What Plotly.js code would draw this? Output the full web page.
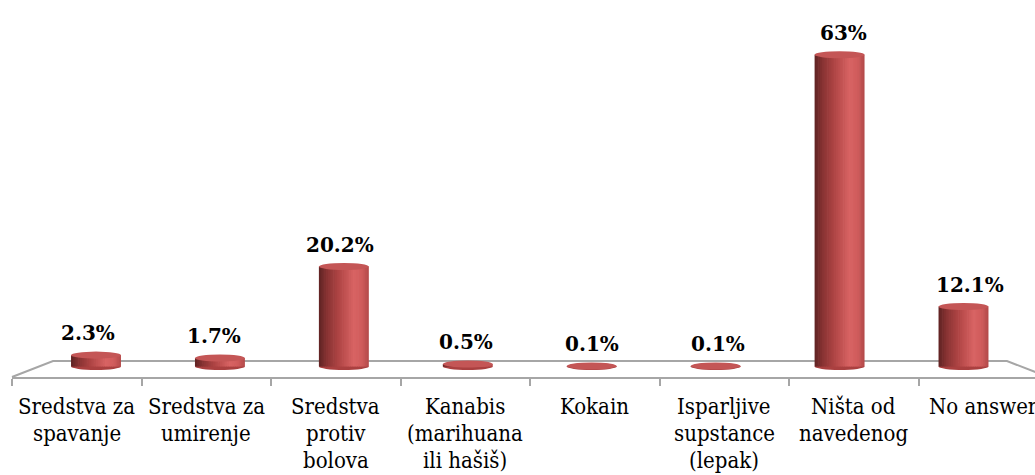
<!DOCTYPE html>
<html>
<head>
<meta charset="utf-8">
<script src="https://cdn.plot.ly/plotly-3.0.1.min.js"></script>
<style>
html, body { margin: 0; padding: 0; overflow: hidden; background: #ffffff; }
#chart { width: 1060px; height: 475px; }
</style>
</head>
<body>
<div id="chart"></div>
<script>
// ---- data ----
const categories = [
  "Sredstva za<br>spavanje",
  "Sredstva za<br>umirenje",
  "Sredstva<br>protiv<br>bolova",
  "Kanabis<br>(marihuana<br>ili hašiš)",
  "Kokain",
  "Isparljive<br>supstance<br>(lepak)",
  "Ništa od<br>navedenog",
  "No answer"
];
const values = [2.3, 1.7, 20.2, 0.5, 0.1, 0.1, 63, 12.1];
const valueLabels = ["2.3%", "1.7%", "20.2%", "0.5%", "0.1%", "0.1%", "63%", "12.1%"];

// ---- style ----
const catFont = "DejaVu Serif Condensed";
const valFont = "DejaVu Serif";
const floorColor = "#a6a6a6";
const barWidth = 0.403;
const ellHalf = 0.71;
const nStrips = 28;
const stops = [
  [0.00, [94, 34, 34]],
  [0.15, [134, 50, 50]],
  [0.40, [176, 69, 69]],
  [0.70, [216, 99, 99]],
  [0.86, [208, 92, 92]],
  [1.00, [178, 72, 72]]
];
function colorAt(t) {
  for (let k = 0; k < stops.length - 1; k++) {
    const [t0, c0] = stops[k], [t1, c1] = stops[k + 1];
    if (t >= t0 && t <= t1) {
      const f = (t - t0) / (t1 - t0);
      const c = c0.map((v, i) => Math.round(v + (c1[i] - v) * f));
      return `rgb(${c[0]},${c[1]},${c[2]})`;
    }
  }
  return "rgb(178,72,72)";
}

const idx = values.map((_, i) => i);
const traces = [];

traces.push({
  type: "scatter", x: idx, y: values.map(() => 0), xaxis: "x", yaxis: "y",
  mode: "markers", marker: { opacity: 0 }, hoverinfo: "skip", showlegend: false
});

const sw = barWidth / nStrips;
for (let j = 0; j < nStrips; j++) {
  const t = (j + 0.5) / nStrips;
  const w = j === nStrips - 1 ? sw : sw * 1.4;
  traces.push({
    type: "bar", x: idx, y: values, xaxis: "x2", yaxis: "y",
    width: w, offset: -barWidth / 2 + j * sw,
    marker: { color: colorAt(t), line: { width: 0 } },
    hoverinfo: "skip", showlegend: false
  });
}

const shapes = [];
shapes.push({
  type: "path", xref: "paper", yref: "paper", layer: "below",
  path: "M 0 0 L 0.0396 0.0424 L 0.9604 0.0424 L 1 0",
  line: { color: floorColor, width: 2 }
});
values.forEach((v, i) => {
  shapes.push({
    type: "circle", xref: "x2", yref: "y", layer: "below",
    x0: i - barWidth / 2, x1: i + barWidth / 2, y0: -ellHalf, y1: ellHalf,
    fillcolor: "rgb(170,64,64)", line: { width: 0 }
  });
});
values.forEach((v, i) => {
  shapes.push({
    type: "circle", xref: "x2", yref: "y", layer: "above",
    x0: i - barWidth / 2, x1: i + barWidth / 2, y0: v - ellHalf, y1: v + ellHalf,
    fillcolor: "rgb(196,86,86)", line: { width: 0 }
  });
});

const annotations = [];
values.forEach((v, i) => {
  annotations.push({
    xref: "x2", yref: "y", x: i, y: v, text: valueLabels[i],
    showarrow: false, yanchor: "bottom", yshift: 8, xshift: -8.5 + 2.1 * i,
    font: { family: valFont, size: 20, color: "#000000", weight: "bold" }
  });
});
categories.forEach((c, i) => {
  c.split("<br>").forEach((line, k) => {
    annotations.push({
      xref: "x", yref: "paper", x: i, y: 0, text: line,
      showarrow: false, yanchor: "top", yshift: -15 - 27 * k,
      font: { family: catFont, size: 22, color: "#000000" }
    });
  });
});

const boundaries = [];
for (let b = 0; b <= categories.length; b++) boundaries.push(b - 0.5);

const layout = {
  width: 1060, height: 475,
  margin: { l: 12, r: 12, t: 0, b: 98 },
  paper_bgcolor: "#ffffff", plot_bgcolor: "#ffffff",
  barmode: "overlay", showlegend: false,
  xaxis: {
    range: [-0.5, categories.length - 0.5], tickmode: "array", tickvals: boundaries,
    showticklabels: false, ticks: "outside", ticklen: 7, tickwidth: 2, tickcolor: floorColor,
    showline: true, linecolor: floorColor, linewidth: 2,
    showgrid: false, zeroline: false, fixedrange: true
  },
  xaxis2: {
    overlaying: "x", anchor: "y", range: [-0.6778, 7.6818],
    visible: false, showgrid: false, zeroline: false, fixedrange: true
  },
  yaxis: {
    range: [-2.12, 74.04], visible: false, showgrid: false, zeroline: false, fixedrange: true
  },
  shapes: shapes,
  annotations: annotations
};

Plotly.newPlot("chart", traces, layout, { displayModeBar: false, staticPlot: true });
</script>
</body>
</html>
